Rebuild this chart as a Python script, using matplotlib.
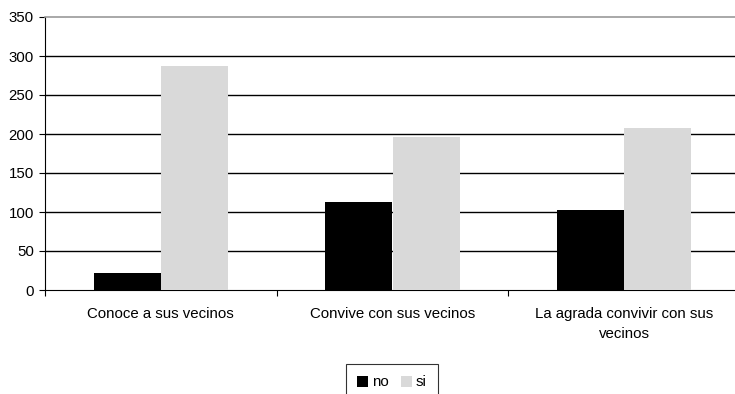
import matplotlib
matplotlib.use("Agg")
import matplotlib.pyplot as plt
import numpy as np

categories = ["Conoce a sus vecinos", "Convive con sus vecinos", "La agrada convivir con sus\nvecinos"]
series_names = ["no", "si"]
no_values = [22, 113, 102]
si_values = [287, 196, 208]
yticks = [0, 50, 100, 150, 200, 250, 300, 350]

plt.rcParams['font.family'] = ['Liberation Sans', 'DejaVu Sans']

fig = plt.figure(figsize=(7.35, 3.94), dpi=100)
W, H = 735, 394
left, right, top, bottom = 45, 740, 17, 290
ax = fig.add_axes([left / W, 1 - bottom / H, (right - left) / W, (bottom - top) / H])

x = np.arange(len(categories))
bw = 0.29
ax.bar(x - bw / 2, no_values, bw, color="#000000", label=series_names[0], zorder=3)
ax.bar(x + bw / 2, si_values, bw, color="#d9d9d9", label=series_names[1], zorder=3)

ax.set_xlim(-0.5, len(categories) - 0.5)
ax.set_ylim(0, 350)
ax.set_yticks(yticks)
ax.set_yticklabels([str(v) for v in yticks], fontsize=10.8)
ax.set_xticks(np.arange(len(categories) + 1) - 0.5)
ax.set_xticklabels([])
ax.set_xticks(x, minor=True)
ax.set_xticklabels(categories, minor=True, fontsize=10.8, ha="center", va="top",
                   linespacing=1.6)
ax.tick_params(axis="x", which="minor", length=0, pad=12)
ax.tick_params(axis="x", which="major", length=4, direction="out", width=0.8)
ax.tick_params(axis="y", length=4, direction="out", width=0.8, pad=4)

for v in yticks[1:-1]:
    ax.axhline(v, color="#000000", lw=1.0, zorder=1)

ax.spines["right"].set_visible(False)
ax.spines["top"].set_color("#999999")
ax.spines["top"].set_linewidth(1.2)
ax.spines["left"].set_color("#000000")
ax.spines["bottom"].set_color("#000000")

leg = fig.legend(loc="upper center", bbox_to_anchor=(392 / W, 1 - 364 / H), ncol=2,
                 fontsize=10.8, frameon=True, fancybox=False, edgecolor="#000000",
                 handlelength=0.75, handleheight=0.75, handletextpad=0.25, columnspacing=0.8,
                 borderpad=0.75, borderaxespad=0)
leg.get_frame().set_linewidth(0.8)

fig.savefig("out.png", dpi=100)
